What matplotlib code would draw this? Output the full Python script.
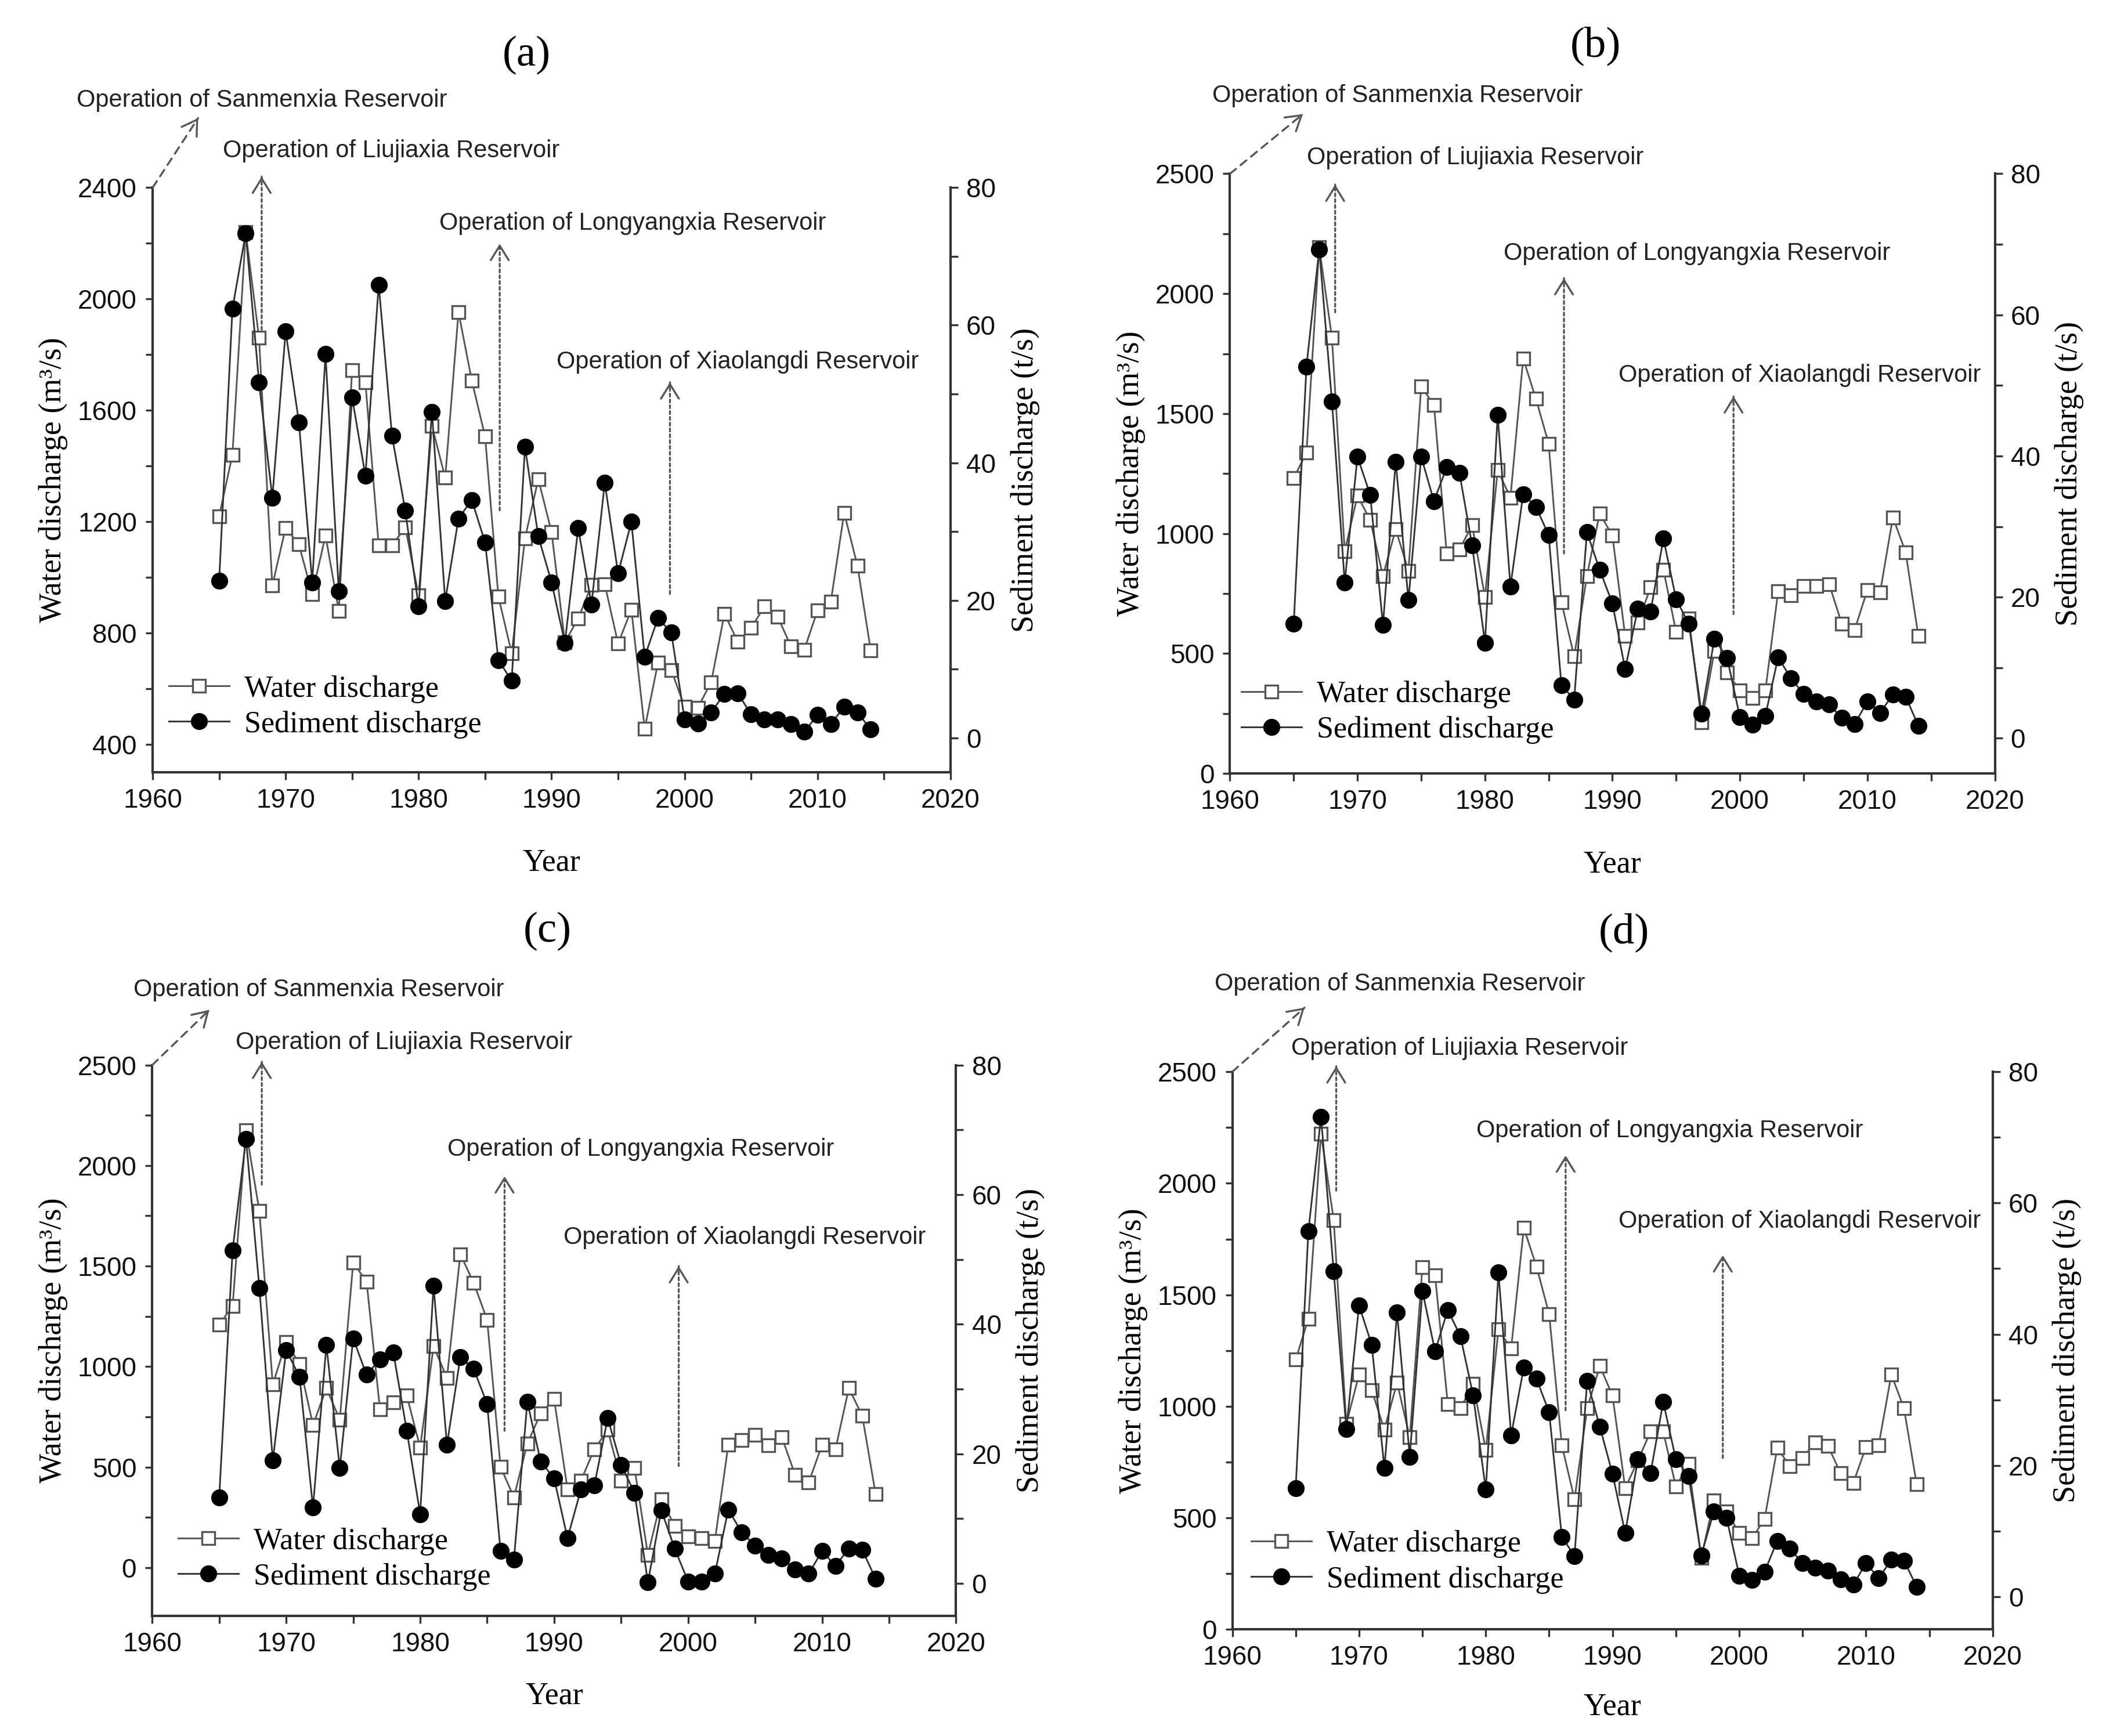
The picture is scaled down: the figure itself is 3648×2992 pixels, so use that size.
import numpy as np
import matplotlib
matplotlib.use('Agg')
import matplotlib.pyplot as plt
from matplotlib.ticker import MultipleLocator

plt.rcParams['font.family'] = 'Liberation Sans'
SERIF = 'Liberation Serif'

years = np.arange(1965, 2015)

# water discharge (m3/s) and sediment discharge (t/s), one pair per panel
water_a = [1220, 1440, 2240, 1860, 970, 1178, 1118, 940, 1150, 880,
           1745, 1700, 1114, 1114, 1180, 935, 1545, 1358, 1953, 1707,
           1506, 931, 727, 1140, 1353, 1162, 767, 852, 972, 975,
           762, 884, 456, 693, 667, 535, 532, 623, 869, 769,
           818, 895, 859, 752, 740, 881, 913, 1232, 1042, 737]
sed_a = [22.8, 62.4, 73.4, 51.7, 34.9, 59.1, 45.9, 22.6, 55.8, 21.3,
         49.5, 38.1, 65.9, 43.9, 33.0, 19.1, 47.4, 19.9, 31.9, 34.6,
         28.4, 11.3, 8.3, 42.3, 29.3, 22.6, 13.8, 30.5, 19.4, 37.1,
         23.9, 31.4, 11.8, 17.4, 15.3, 2.7, 2.1, 3.7, 6.4, 6.5,
         3.4, 2.7, 2.7, 2.0, 0.9, 3.3, 2.0, 4.5, 3.7, 1.2]

water_b = [1231, 1338, 2195, 1816, 926, 1158, 1057, 824, 1018, 845,
           1613, 1537, 918, 935, 1035, 736, 1265, 1150, 1730, 1562,
           1375, 714, 488, 824, 1084, 992, 573, 629, 777, 850,
           590, 646, 214, 510, 421, 346, 315, 346, 760, 743,
           782, 782, 790, 624, 599, 765, 756, 1068, 923, 573]
sed_b = [16.2, 52.7, 69.3, 47.7, 22.1, 39.9, 34.5, 16.1, 39.2, 19.6,
         39.9, 33.6, 38.4, 37.6, 27.3, 13.5, 45.8, 21.5, 34.6, 32.8,
         28.8, 7.5, 5.5, 29.2, 23.9, 19.1, 9.8, 18.4, 18.0, 28.3,
         19.7, 16.2, 3.5, 14.1, 11.4, 3.0, 1.9, 3.2, 11.5, 8.5,
         6.3, 5.2, 4.8, 2.9, 2.0, 5.2, 3.6, 6.2, 5.9, 1.8]

water_c = [1209, 1301, 2176, 1773, 911, 1123, 1012, 709, 893, 736,
           1517, 1423, 788, 823, 856, 598, 1101, 944, 1559, 1416,
           1233, 501, 350, 617, 768, 838, 390, 433, 589, 685,
           433, 497, 64, 341, 206, 156, 147, 133, 611, 635,
           659, 608, 648, 460, 423, 611, 589, 893, 755, 365]
sed_c = [13.3, 51.4, 68.6, 45.6, 19.0, 36.0, 31.9, 11.7, 36.8, 17.8,
         37.8, 32.2, 34.6, 35.6, 23.6, 10.7, 45.9, 21.4, 34.9, 33.1,
         27.7, 5.0, 3.7, 28.0, 18.8, 16.2, 7.0, 14.5, 15.1, 25.5,
         18.3, 14.0, 0.2, 11.3, 5.4, 0.3, 0.3, 1.5, 11.4, 7.9,
         5.8, 4.4, 3.9, 2.2, 1.5, 5.0, 2.7, 5.4, 5.2, 0.7]

water_d = [1210, 1392, 2223, 1836, 922, 1143, 1072, 896, 1107, 861,
           1625, 1587, 1011, 991, 1100, 804, 1345, 1259, 1800, 1627,
           1414, 826, 584, 991, 1181, 1048, 633, 757, 887, 887,
           640, 743, 320, 579, 529, 432, 408, 495, 814, 731,
           769, 839, 823, 700, 657, 818, 826, 1143, 991, 650]
sed_d = [16.5, 55.7, 73.1, 49.6, 25.5, 44.4, 38.4, 19.6, 43.3, 21.3,
         46.6, 37.4, 43.7, 39.7, 30.7, 16.3, 49.4, 24.6, 34.9, 33.2,
         28.1, 9.1, 6.2, 32.9, 25.9, 18.7, 9.7, 20.9, 18.8, 29.7,
         20.9, 18.4, 6.3, 13.0, 12.0, 3.2, 2.5, 3.8, 8.5, 7.3,
         5.1, 4.4, 4.0, 2.6, 1.8, 5.1, 2.8, 5.6, 5.5, 1.5]

reservoirs = ['Sanmenxia', 'Liujiaxia', 'Longyangxia', 'Xiaolangdi']

panels = [
    dict(label='(a)', water=water_a, sed=sed_a,
         rect=[0.0721, 0.5552, 0.3769, 0.3367], ylim=(300, 2400), ymaj=400, ymin=200,
         title=(0.2487, 0.9681), xpad=14.5,
         sanm_tip=(0.057, 1.119),
         texts=[(-0.0954, 1.149), (0.088, 1.063), (0.359, 0.939), (0.506, 0.702)],
         arrows=[(1968.2, 0.757, 1.019), (1986.1, 0.448, 0.904), (1998.9, 0.305, 0.667)],
         leg=(0.0204, 0.112)),
    dict(label='(b)', water=water_b, sed=sed_b,
         rect=[0.5810, 0.5544, 0.3613, 0.3455], ylim=(0, 2500), ymaj=500, ymin=250,
         title=(0.7538, 0.9736), xpad=14.5,
         sanm_tip=(0.0953, 1.0995),
         texts=[(-0.023, 1.130), (0.1006, 1.027), (0.358, 0.867), (0.508, 0.664)],
         arrows=[(1968.25, 0.769, 0.982), (1986.2, 0.367, 0.826), (1999.5, 0.266, 0.629)],
         leg=(0.015, 0.102)),
    dict(label='(c)', water=water_c, sed=sed_c,
         rect=[0.0719, 0.0692, 0.3797, 0.3173], ylim=(-240, 2500), ymaj=500, ymin=250,
         title=(0.2587, 0.4635), xpad=10,
         sanm_tip=(0.071, 1.100),
         texts=[(-0.0235, 1.136), (0.104, 1.041), (0.367, 0.847), (0.512, 0.687)],
         arrows=[(1968.18, 0.783, 1.006), (1986.3, 0.336, 0.798), (1999.3, 0.272, 0.635)],
         leg=(0.0324, 0.103)),
    dict(label='(d)', water=water_d, sed=sed_d,
         rect=[0.5821, 0.0614, 0.3592, 0.3212], ylim=(0, 2500), ymaj=500, ymin=250,
         title=(0.7672, 0.4627), xpad=9,
         sanm_tip=(0.095, 1.115),
         texts=[(-0.023, 1.157), (0.0776, 1.042), (0.321, 0.894), (0.508, 0.732)],
         arrows=[(1968.2, 0.787, 1.010), (1986.3, 0.393, 0.850), (1998.7, 0.3075, 0.671)],
         leg=(0.0247, 0.121)),
]

AX_COL = '#333333'
ARR_COL = '#555555'


def draw_arrow(ax, x0, y0, x1, y1, ls, coords):
    # shaft
    ax.annotate('', xy=(x1, y1), xytext=(x0, y0), xycoords=coords, textcoords=coords,
                annotation_clip=False,
                arrowprops=dict(arrowstyle='-', ls=ls, lw=0.8, color=ARR_COL,
                                shrinkA=0, shrinkB=0))
    # open head, solid
    hx, hy = x1 - 0.02 * (x1 - x0), y1 - 0.02 * (y1 - y0)
    ax.annotate('', xy=(x1, y1), xytext=(hx, hy), xycoords=coords, textcoords=coords,
                annotation_clip=False,
                arrowprops=dict(arrowstyle='->, head_length=0.6, head_width=0.37',
                                lw=0.8, color=ARR_COL, shrinkA=0, shrinkB=0,
                                mutation_scale=10))


def style_ticks(a):
    a.tick_params(which='both', direction='out', length=3, width=0.8,
                  color=AX_COL, labelsize=11, labelcolor='#111111')


fig = plt.figure(figsize=(3648 / 300, 2992 / 300), dpi=300)

for p in panels:
    ax = fig.add_axes(p['rect'])
    ax2 = ax.twinx()

    l1, = ax.plot(years, p['water'], color='#555555', lw=0.7, marker='s', ms=5.5,
                  mfc='white', mec='#555555', mew=0.8, label='Water discharge')
    l2, = ax2.plot(years, p['sed'], color='#333333', lw=0.7, marker='o', ms=6,
                   mfc='black', mec='black', label='Sediment discharge')

    ax.set_xlim(1960, 2020)
    ax.set_ylim(*p['ylim'])
    ax2.set_ylim(-5, 80)
    ax.xaxis.set_major_locator(MultipleLocator(10))
    ax.xaxis.set_minor_locator(MultipleLocator(5))
    ax.yaxis.set_major_locator(MultipleLocator(p['ymaj']))
    ax.yaxis.set_minor_locator(MultipleLocator(p['ymin']))
    ax2.yaxis.set_major_locator(MultipleLocator(20))
    ax2.yaxis.set_minor_locator(MultipleLocator(10))
    style_ticks(ax)
    style_ticks(ax2)

    for s in ['top', 'right']:
        ax.spines[s].set_visible(False)
    for s in ['top', 'left', 'bottom']:
        ax2.spines[s].set_visible(False)
    for a in (ax, ax2):
        for s in a.spines.values():
            s.set_color(AX_COL)
            s.set_linewidth(1.0)

    ax.set_xlabel('Year', family=SERIF, fontsize=13, labelpad=p['xpad'])
    ax.set_ylabel('Water discharge (m³/s)', family=SERIF, fontsize=13, labelpad=4)
    ax2.set_ylabel('Sediment discharge (t/s)', family=SERIF, fontsize=13, labelpad=6)

    ax2.legend(handles=[l1, l2], loc='center left', bbox_to_anchor=p['leg'],
               frameon=False, prop={'family': SERIF, 'size': 12.5},
               handlelength=2.0, handletextpad=0.5, labelspacing=0.25,
               borderpad=0, borderaxespad=0)

    fig.text(p['title'][0], p['title'][1], p['label'], family=SERIF, fontsize=18,
             ha='center', va='center')

    # reservoir annotations
    for name, (tx, ty) in zip(reservoirs, p['texts']):
        ax.text(tx, ty, 'Operation of %s Reservoir' % name, transform=ax.transAxes,
                fontsize=10, color='#222222', ha='left', va='center', clip_on=False)
    draw_arrow(ax, 0, 1, p['sanm_tip'][0], p['sanm_tip'][1], (0, (4, 3)), 'axes fraction')
    for (xa, yb, yt) in p['arrows']:
        draw_arrow(ax, xa, yb, xa, yt, (0, (1.5, 1.5)), ('data', 'axes fraction'))

fig.savefig('out.png', dpi=300)
